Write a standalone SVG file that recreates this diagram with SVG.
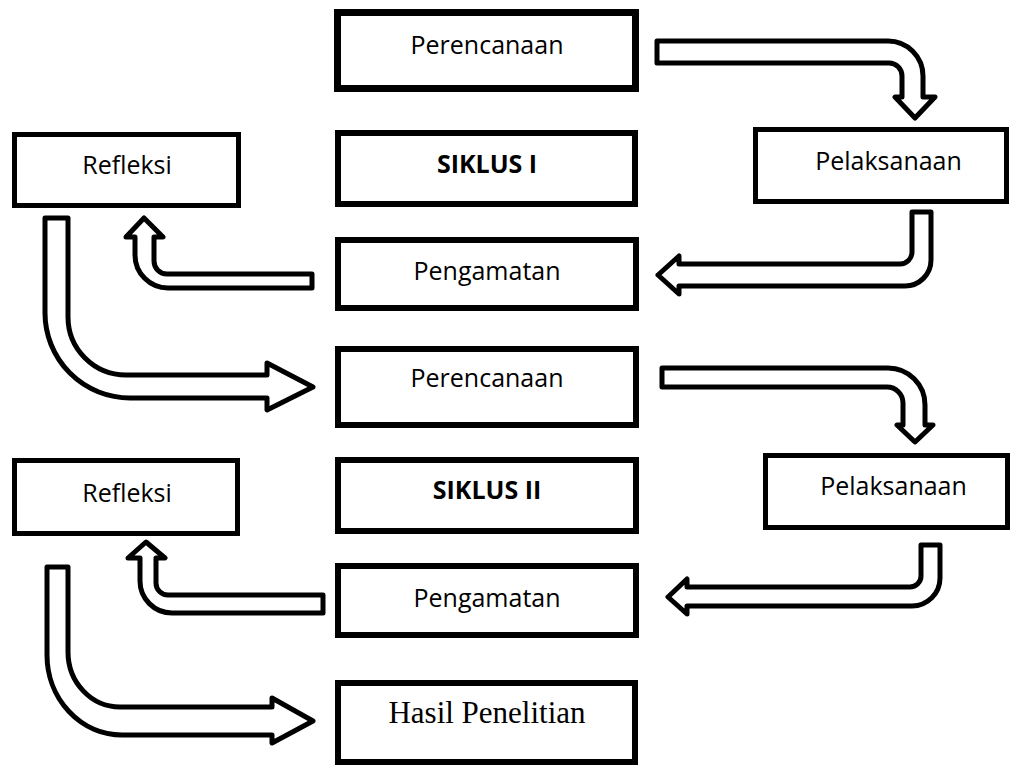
<svg xmlns="http://www.w3.org/2000/svg" width="1014" height="766" viewBox="0 0 1014 766">
<style>
.box{fill:#fff;stroke:#000;stroke-width:6}
.thin{stroke-width:5}
.thick{stroke-width:7}
.lbl{font-family:"Open Sans","Noto Sans",sans-serif;font-size:25px;fill:#000;text-anchor:middle}
.bold{font-weight:bold}
.serif{font-family:"Liberation Serif","Times New Roman",serif;font-size:31px}
.arr{fill:#fff;stroke:#000;stroke-width:5;stroke-linejoin:round}
</style>
<rect width="1014" height="766" fill="#fff"/>
<g id="connectors">
<path class="arr" d="M657 41 H888 A35 35 0 0 1 923 76 V97 H935 L915 118 L895 97 H902 V76 A13 13 0 0 0 889 63 H657 Z"/>
<path class="arr" d="M912 212 H931 V260 A26 26 0 0 1 905 286 H679 V294 L658 275 L679 256 V264 H900 A12 12 0 0 0 912 252 Z"/>
<path class="arr" d="M312 274 V288 H168 A33 33 0 0 1 135 255 V237 H126 L144 218 L163 237 H154 V261 A13 13 0 0 0 167 274 Z"/>
<path class="arr" d="M45 218 H68 V317 A58 58 0 0 0 126 375 H267 V363 L313 387 L267 410 V398 H130 A85 85 0 0 1 45 313 Z"/>
<path class="arr" d="M662 368 H888 A37 37 0 0 1 925 405 V425 H933 L915 442 L897 425 H903 V403 A16 16 0 0 0 887 387 H662 Z"/>
<path class="arr" d="M921 545 H940 V578 A28 28 0 0 1 912 606 H687 V614 L668 597 L687 579 V587 H910 A11 11 0 0 0 921 576 Z"/>
<path class="arr" d="M323 595 V613 H172 A32 32 0 0 1 140 581 V558 H128 L146 542 L165 558 H156 V583 A12 12 0 0 0 168 595 Z"/>
<path class="arr" d="M47 567 H68 V652 A52 55 0 0 0 120 707 H272 V698 L313 721 L272 743 V735 H122 A75 80 0 0 1 47 655 Z"/>
</g>
<g id="perencanaan1"><rect class="box thick" x="337.5" y="12.5" width="298" height="76"/><text class="lbl" x="487" y="54">Perencanaan</text></g>
<g id="siklus1"><rect class="box" x="338" y="133" width="297" height="71"/><text class="lbl bold" x="487" y="173">SIKLUS I</text></g>
<g id="pengamatan1"><rect class="box" x="338" y="240" width="298" height="68"/><text class="lbl" x="487" y="280">Pengamatan</text></g>
<g id="perencanaan2"><rect class="box" x="338" y="349" width="298" height="76"/><text class="lbl" x="487" y="387">Perencanaan</text></g>
<g id="siklus2"><rect class="box" x="338" y="460" width="298" height="71"/><text class="lbl bold" x="487" y="499">SIKLUS II</text></g>
<g id="pengamatan2"><rect class="box" x="338" y="566" width="298" height="69"/><text class="lbl" x="487" y="607">Pengamatan</text></g>
<g id="hasil"><rect class="box" x="338" y="683" width="297" height="79"/><text class="lbl serif" x="487" y="723">Hasil Penelitian</text></g>
<g id="refleksi1"><rect class="box thin" x="14.5" y="134.5" width="224" height="71"/><text class="lbl" x="127" y="174">Refleksi</text></g>
<g id="refleksi2"><rect class="box thin" x="14.5" y="460.5" width="223" height="73"/><text class="lbl" x="127" y="502">Refleksi</text></g>
<g id="pelaksanaan1"><rect class="box thin" x="755.5" y="129.5" width="251" height="72"/><text class="lbl" x="888.5" y="170">Pelaksanaan</text></g>
<g id="pelaksanaan2"><rect class="box thin" x="765.5" y="455.5" width="242" height="72"/><text class="lbl" x="893.5" y="495">Pelaksanaan</text></g>
</svg>
